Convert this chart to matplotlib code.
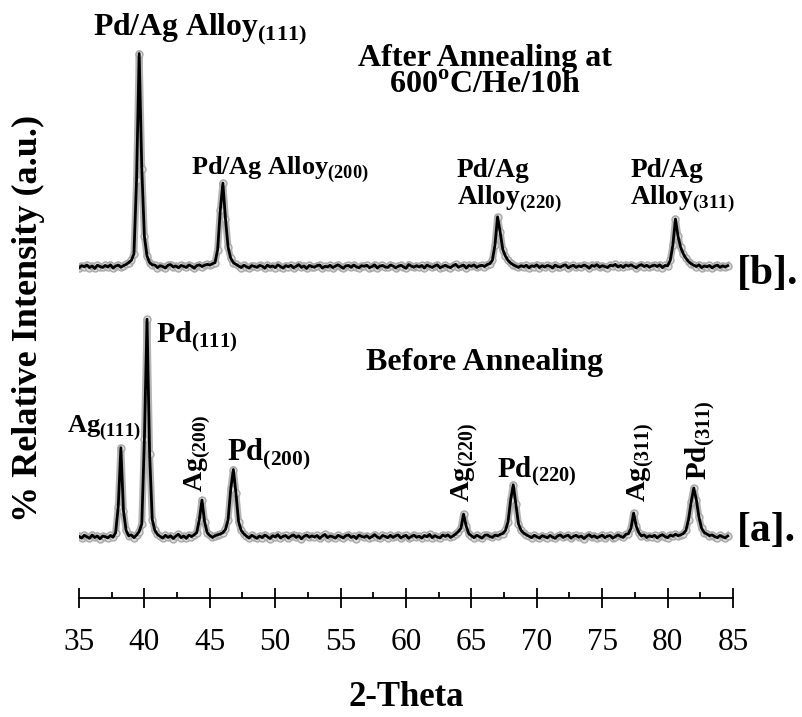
import numpy as np
import matplotlib
matplotlib.use("Agg")
import matplotlib.pyplot as plt

plt.rcParams['font.family'] = ['Liberation Serif', 'DejaVu Serif']
plt.rcParams['mathtext.fontset'] = 'custom'
plt.rcParams['mathtext.rm'] = 'Liberation Serif'
plt.rcParams['mathtext.bf'] = 'Liberation Serif:bold'

# 2-theta grid of the scan (deg), 0.2 step
two_theta = np.round(np.arange(35.0, 84.61, 0.2), 1)

# [a] before annealing, relative intensity (%)
before = [
    0.3, -0.5, 0.8, 0.1, -0.6, 0.9, -0.2, 0.5, -0.8, 0.4,
    0.2, -0.4, 0.7, -0.1, 2, 14, 41, 12, 3, 0.6,
    1.0, -0.3, 0.9, 2.5, 6, 45, 100, 38, 8, 3,
    1.2, 0.3, -0.5, 0.8, -0.2, 0.6, -0.7, 0.4, 1.3, -0.3,
    0.5, -0.6, 0.9, 0.2, 1.0, 2, 8, 17, 7, 2,
    0.7, -0.2, 0.6, 1.0, 1.4, 2.0, 3.5, 8, 22, 31,
    20, 7, 3, 1.5, 0.4, -0.5, 0.8, 0.1, -0.6, 0.5,
    -0.3, 0.9, 0.2, -0.7, 0.6, 0.0, 1.1, -0.4, 0.3, 0.7,
    -0.5, 0.4, 1.0, -0.2, 0.6, -0.8, 0.3, 0.9, -0.1, 0.5,
    0.0, 0.7, -0.6, 0.4, 1.2, -0.3, 0.5, 0.1, -0.5, 0.8,
    0.2, -0.4, 0.6, 1.0, -0.2, 0.4, -0.7, 0.9, 0.3, -0.1,
    0.6, -0.5, 0.2, 1.1, 0.0, -0.6, 0.7, 0.3, -0.3, 0.8,
    -0.2, 0.5, 1.0, -0.4, 0.3, 0.8, -0.6, 0.2, 0.9, -0.1,
    0.4, -0.5, 0.7, 0.1, 1.2, -0.3, 0.6, 0.0, -0.4, 0.9,
    0.3, 1.0, -0.2, 0.5, 1.4, 2.5, 4, 10.5, 5, 1.5,
    0.6, -0.3, 0.8, 0.2, -0.5, 0.7, 1.0, 0.3, -0.2, 0.9,
    0.5, 1.2, 1.6, 3, 7, 17, 24, 15, 6, 3,
    1.8, 1.0, 0.4, -0.3, 0.8, 0.1, -0.5, 0.6, 0.2, -0.4,
    0.7, 0.0, -0.6, 0.5, 1.0, -0.2, 0.4, 0.9, -0.5, 0.3,
    0.8, -0.1, 0.5, -0.7, 0.3, 1.1, 0.0, 0.6, -0.4, 0.2,
    0.9, -0.3, 0.4, 0.7, -0.5, 0.2, 1.0, 0.3, -0.2, 1.2,
    1.5, 4, 11, 5, 2, 0.5, 1.0, -0.2, 0.6, 0.1,
    0.8, -0.4, 0.5, 1.1, 0.2, -0.3, 0.9, 0.4, 1.3, 0.6,
    1.0, 1.6, 3, 8, 16, 22.5, 17, 9, 4, 2,
    1.4, 0.6, 1.0, 0.2, -0.3, 0.7, 0.1, -0.4, 0.5,
]

# [b] after annealing at 600 C / He / 10 h, relative intensity (%)
after = [
    -0.4, 0.6, 0.1, 0.9, -0.3, 0.5, -0.7, 0.8, 0.2, -0.2,
    0.7, 0.0, 1.0, -0.5, 0.4, 0.9, -0.1, 0.6, 1.2, 2,
    3, 6, 40, 98, 45, 14, 5, 2, 1.0, 0.9,
    -0.3, 0.6, 0.2, -0.5, 0.8, 1.1, 0.0, 0.5, -0.4, 0.7,
    0.3, -0.2, 0.9, 0.4, -0.6, 0.6, 1.0, 0.2, 0.8, 1.2,
    0.9, 1.5, 2, 8, 26, 38.5, 22, 9, 4, 2,
    1.2, 0.5, -0.3, 0.8, 0.1, -0.5, 0.6, 0.3, -0.2, 0.7,
    0.4, -0.6, 0.9, 0.0, 0.5, -0.3, 1.0, 0.2, -0.5, 0.6,
    0.1, 0.8, -0.4, 0.3, 1.1, -0.2, 0.5, -0.7, 0.7, 0.2,
    -0.1, 0.6, 0.9, -0.5, 0.3, 0.0, 0.8, -0.3, 0.4, 1.0,
    0.2, -0.6, 0.5, 0.7, -0.2, 0.9, 0.1, -0.4, 0.6, 0.3,
    0.8, -0.3, 0.2, 1.0, -0.5, 0.4, 0.7, 0.0, -0.2, 0.9,
    0.5, -0.4, 0.3, 0.8, 0.1, -0.6, 1.1, 0.4, -0.1, 0.6,
    0.0, 0.7, -0.5, 0.9, 0.3, -0.2, 0.5, 1.0, -0.4, 0.2,
    0.8, 0.1, -0.3, 0.6, 1.2, -0.1, 0.4, 0.9, -0.5, 0.7,
    0.3, 1.0, -0.2, 0.5, 0.8, 0.2, 1.1, 1.5, 3, 10,
    23, 16, 8, 5, 3, 1.8, 1.0, 0.4, -0.2, 0.6,
    0.1, 0.8, -0.4, 0.5, 0.2, 1.0, -0.3, 0.6, 0.0, 0.7,
    0.4, -0.5, 0.9, 0.2, -0.1, 0.6, 1.0, -0.4, 0.3, 0.8,
    -0.2, 0.5, 0.1, 0.9, 0.4, -0.6, 0.7, 0.3, 1.1, -0.1,
    0.6, 0.2, -0.3, 0.8, 0.5, 1.2, 0.0, 0.7, -0.2, 0.9,
    0.4, 1.0, 0.3, -0.4, 0.6, 1.1, 0.2, 0.8, -0.1, 0.5,
    0.9, 0.2, 1.0, -0.3, 0.7, 0.5, 3, 10, 22, 14,
    9, 6, 4, 2.5, 1.5, 0.8, 0.2, 1.0, -0.3, 0.5,
    0.1, 0.7, -0.4, 0.4, 0.9, -0.2, 0.5, 0.0, 0.6,
]

offset_b = 124  # vertical shift of the [b] pattern

# (text, 2-theta, y, size, rotation)
labels_a = [
    (r'Ag$_{\mathbf{(111)}}$', 34.1, 48.2, 19, 0),
    (r'Pd$_{\mathbf{(111)}}$', 40.9, 89.6, 21.5, 0),
    (r'Ag$_{\mathbf{(200)}}$', 44.05, 20.7, 20, 90),
    (r'Pd$_{\mathbf{(200)}}$', 46.3, 35.4, 22, 0),
    (r'Ag$_{\mathbf{(220)}}$', 64.5, 16.1, 20.5, 90),
    (r'Pd$_{\mathbf{(220)}}$', 66.95, 27.6, 21, 0),
    (r'Ag$_{\mathbf{(311)}}$', 78.0, 16.1, 20.5, 90),
    (r'Pd$_{\mathbf{(311)}}$', 82.5, 26.2, 21, 90),
]
labels_b = [
    (r'Pd/Ag Alloy$_{\mathbf{(111)}}$', 36.05, 230.5, 22.8, 0),
    (r'Pd/Ag Alloy$_{\mathbf{(200)}}$', 43.55, 166.3, 18.9, 0),
    ('Pd/Ag\n' + r'Alloy$_{\mathbf{(220)}}$', 63.9, 152.5, 19.6, 0),
    ('Pd/Ag\n' + r'Alloy$_{\mathbf{(311)}}$', 77.15, 152.5, 19.6, 0),
]

fig = plt.figure(figsize=(8.03, 7.17), dpi=100)
ax = fig.add_axes([79 / 803, 119 / 717, 654 / 803, 578 / 717])

y_b = np.array(after) + offset_b
for y in (np.array(before), y_b):
    ax.plot(two_theta, y, color='#b4b4b4', lw=5, marker='o', ms=5,
            mfc='#dcdcdc', mec='#a8a8a8', mew=1, zorder=2)
    ax.plot(two_theta, y, color='black', lw=2, zorder=3)

for text, x, y, size, rot in labels_a + labels_b:
    if rot == 90:
        ax.text(x, y, text, fontsize=size, fontweight='bold', rotation=90,
                ha='center', va='bottom')
    else:
        ax.text(x, y, text, fontsize=size, fontweight='bold',
                ha='left', va='baseline', linespacing=1.05)

ax.text(66.0, 203.9, 'After Annealing at\n' + r'600$^{\mathbf{o}}$C/He/10h',
        fontsize=23, fontweight='bold', ha='center', va='baseline',
        multialignment='center', linespacing=0.9)
ax.text(66.0, 80, 'Before Annealing', fontsize=23, fontweight='bold',
        ha='center', va='center')
ax.text(85.3, 120.6, '[b].', fontsize=30, fontweight='bold', ha='left', va='center')
ax.text(85.3, 2.6, '[a].', fontsize=30, fontweight='bold', ha='left', va='center')

ax.set_xlim(35, 85)
ax.set_ylim(-28.0, 237.4)
for side in ('left', 'top', 'right'):
    ax.spines[side].set_visible(False)
ax.spines['bottom'].set_linewidth(1.3)
ax.set_yticks([])
ax.set_xticks(np.arange(35, 86, 5))
ax.set_xticks(np.arange(37.5, 85, 5), minor=True)
ax.tick_params(axis='x', which='major', direction='inout', length=14, width=1.3,
               labelsize=22.5, pad=14.5)
ax.tick_params(axis='x', which='minor', direction='in', length=4.5, width=1.3)

ax.set_xlabel('2-Theta', fontsize=25, fontweight='bold', va='baseline')
ax.xaxis.set_label_coords(0.5, -0.186)
ax.set_ylabel('% Relative Intensity (a.u.)', fontsize=26, fontweight='bold', va='center')
ax.yaxis.set_label_coords(-0.078, 0.484)

fig.savefig('out.png', dpi=100)
